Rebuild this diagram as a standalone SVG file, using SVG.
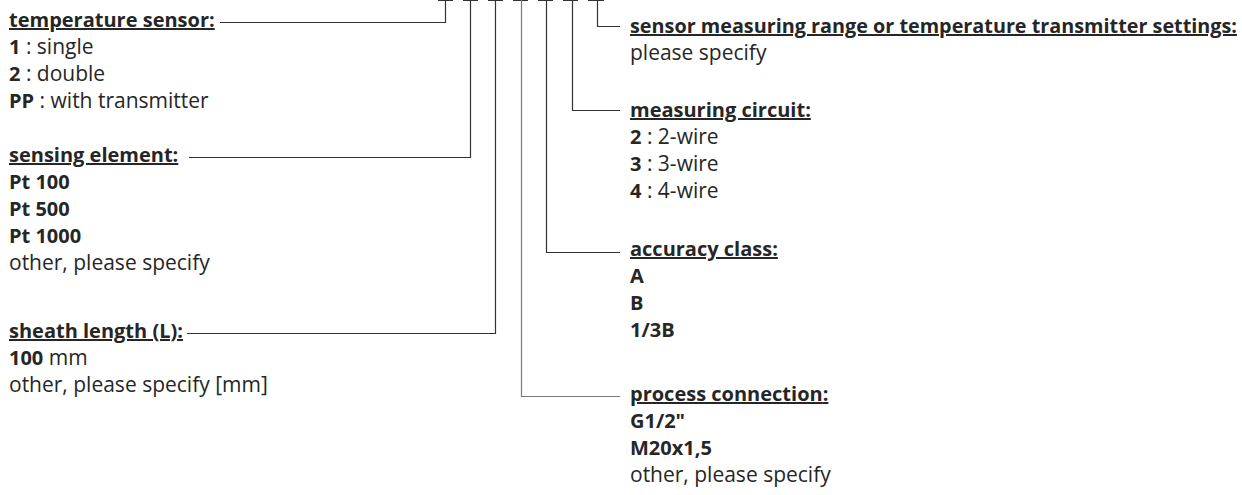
<svg xmlns="http://www.w3.org/2000/svg" width="1242" height="495" viewBox="0 0 1242 495">
<style>
text{font-family:"Open Sans","Liberation Sans",sans-serif;font-size:21px;fill:#262626}
.h{font-weight:bold;font-size:20px;text-decoration:underline}
.b{font-weight:bold;font-size:20px}
.c{fill:none;stroke:#333;stroke-width:1.2}
.g{stroke:#7a7a7a}
</style>
<rect width="1242" height="495" fill="#fff"/>
<g id="connectors">
<path class="c" d="M438,0.5H453M463,0.5H478M488,0.5H503M513,0.5H528M538,0.5H553M563,0.5H578M588,0.5H604"/>
<path class="c" d="M445.5,0V22.5H220"/>
<path class="c" d="M470.5,0V157.5H189"/>
<path class="c" d="M495.5,0V333.5H187"/>
<path class="c g" d="M521.5,0V396.5H620"/>
<path class="c" d="M546.5,0V252.5H620"/>
<path class="c" d="M572.5,0V110.5H620"/>
<path class="c" d="M597.5,0V26.5H620"/>
</g>
<g id="temperature-sensor">
<text class="h" x="9" y="27">temperature sensor:</text>
<text x="9" y="54"><tspan class="b">1</tspan> : single</text>
<text x="9" y="81"><tspan class="b">2</tspan> : double</text>
<text x="9" y="108"><tspan class="b">PP</tspan> : with transmitter</text>
</g>
<g id="sensing-element">
<text class="h" x="9" y="162">sensing element:</text>
<text class="b" x="9" y="189">Pt 100</text>
<text class="b" x="9" y="216">Pt 500</text>
<text class="b" x="9" y="243">Pt 1000</text>
<text x="9" y="270">other, please specify</text>
</g>
<g id="sheath-length">
<text class="h" x="9" y="338">sheath length (L):</text>
<text x="9" y="365"><tspan class="b">100</tspan> mm</text>
<text x="9" y="392">other, please specify [mm]</text>
</g>
<g id="sensor-range">
<text class="h" x="630" y="33" textLength="607" lengthAdjust="spacingAndGlyphs">sensor measuring range or temperature transmitter settings:</text>
<text x="630" y="60">please specify</text>
</g>
<g id="measuring-circuit">
<text class="h" x="630" y="117">measuring circuit:</text>
<text x="630" y="144"><tspan class="b">2</tspan> : 2-wire</text>
<text x="630" y="171"><tspan class="b">3</tspan> : 3-wire</text>
<text x="630" y="198"><tspan class="b">4</tspan> : 4-wire</text>
</g>
<g id="accuracy-class">
<text class="h" x="630" y="256">accuracy class:</text>
<text class="b" x="630" y="283">A</text>
<text class="b" x="630" y="310">B</text>
<text class="b" x="630" y="337">1/3B</text>
</g>
<g id="process-connection">
<text class="h" x="630" y="401">process connection<tspan style="text-decoration:none">:</tspan></text>
<text class="b" x="630" y="428">G1/2"</text>
<text class="b" x="630" y="455">M20x1,5</text>
<text x="630" y="482">other, please specify</text>
</g>
</svg>
